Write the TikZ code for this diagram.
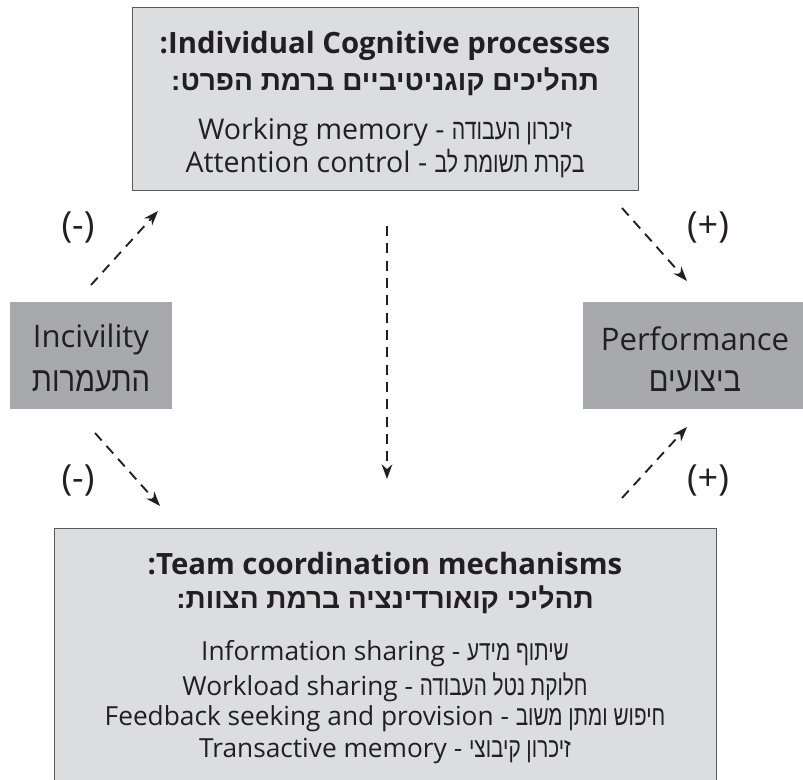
\documentclass[tikz,border=0pt]{standalone}
\usepackage{fontspec}
\setmainfont{Open Sans}
\newfontfamily\hebfont[Script=Hebrew]{Liberation Sans}
\newfontfamily\hebcond[Script=Hebrew,FakeStretch=0.74]{Liberation Sans}
\newfontfamily\hebside[Script=Hebrew,FakeStretch=0.84]{Liberation Sans}
\TeXXeTstate=1
\usetikzlibrary{arrows.meta}
\definecolor{txt}{HTML}{231F20}
\definecolor{lightbox}{HTML}{DCDDDF}
\definecolor{darkbox}{HTML}{A7A9AC}
\definecolor{bordercol}{HTML}{58595B}
\newcommand{\hebtop}[1]{{\hebcond\fontsize{21.5}{25}\selectfont\beginR #1\endR}}
\newcommand{\hebbot}[1]{{\hebcond\fontsize{21}{25}\selectfont\beginR #1\endR}}
\newcommand{\hebsd}[1]{{\hebside\fontsize{26}{30}\selectfont\beginR #1\endR}}
\newcommand{\hebbold}[1]{{\hebfont\bfseries\fontsize{21}{25}\selectfont\beginR #1\endR}}
\begin{document}
\begin{tikzpicture}[x=0.75pt,y=-0.75pt,
  lightrect/.style={draw=bordercol,line width=0.9pt,fill=lightbox,anchor=north west,inner sep=0pt},
  darkrect/.style={fill=darkbox,anchor=north west,inner sep=0pt},
  titletext/.style={text=txt,font=\bfseries\fontsize{22}{26}\selectfont,align=center},
  topbody/.style={text=txt,font=\fontsize{21.4}{25}\selectfont,align=center},
  botbody/.style={text=txt,font=\fontsize{19.7}{23}\selectfont,align=center},
  sidetext/.style={text=txt,font=\fontsize{23.3}{28}\selectfont,align=center},
  signtext/.style={text=txt,font=\fontsize{27}{31}\selectfont},
  dasharrow/.style={draw=txt,line width=1.4pt,dash pattern=on 7.5pt off 5.5pt,-{Stealth[length=11pt,width=8pt]}},
]
\useasboundingbox (0,0) rectangle (803,780);
\fill[white] (0,0) rectangle (803,780);

% boxes
\node[lightrect,minimum width=379.5pt,minimum height=137.25pt] (topbox) at (132,7) {};
\node[lightrect,minimum width=496.5pt,minimum height=198pt] (botbox) at (54,528) {};
\node[darkrect,minimum width=121.5pt,minimum height=80.25pt] (incbox) at (10,302) {};
\node[darkrect,minimum width=172pt,minimum height=80.25pt] (perfbox) at (583,302) {};

% top box text
\node[titletext] (t1) at (385,46) {:Individual Cognitive processes};
\node[titletext] (t2) at (385,82) {\hebbold{תהליכים קוגניטיביים ברמת הפרט:}};
\node[topbody] (t3) at (385,132) {Working memory - \hebtop{זיכרון העבודה}};
\node[topbody] (t4) at (385,164) {Attention control - \hebtop{בקרת תשומת לב}};

% bottom box text
\node[titletext] (b1) at (385,564) {:Team coordination mechanisms};
\node[titletext] (b2) at (385,600) {\hebbold{תהליכי קואורדינציה ברמת הצוות:}};
\node[botbody] (b3) at (385,654) {Information sharing - \hebbot{שיתוף מידע}};
\node[botbody] (b4) at (385,687) {Workload sharing - \hebbot{חלוקת נטל העבודה}};
\node[botbody] (b5) at (385,719) {Feedback seeking and provision - \hebbot{חיפוש ומתן משוב}};
\node[botbody] (b6) at (385,751) {Transactive memory - \hebbot{זיכרון קיבוצי}};

% side boxes text
\node[sidetext] (i1) at (91,339) {Incivility};
\node[sidetext] (i2) at (91,381) {\hebsd{התעמרות}};
\node[sidetext] (p1) at (695,339) {Performance};
\node[sidetext] (p2) at (695,381) {\hebsd{ביצועים}};

% signs
\node[signtext] (s1) at (78,228) {(-)};
\node[signtext] (s2) at (708,228) {(+)};
\node[signtext] (s3) at (78,480) {(-)};
\node[signtext] (s4) at (708,480) {(+)};

% arrow endpoints
\coordinate (a1s) at (91,285);  \coordinate (a1e) at (158,211);
\coordinate (a2s) at (622,208); \coordinate (a2e) at (687,281);
\coordinate (a3s) at (95,433);  \coordinate (a3e) at (160,506);
\coordinate (a4s) at (622,498); \coordinate (a4e) at (687,427);
\coordinate (a5s) at (387,226); \coordinate (a5e) at (387,479);

\draw[dasharrow] (a1s) -- (a1e);
\draw[dasharrow] (a2s) -- (a2e);
\draw[dasharrow] (a3s) -- (a3e);
\draw[dasharrow] (a4s) -- (a4e);
\draw[dasharrow] (a5s) -- (a5e);
\end{tikzpicture}
\end{document}
